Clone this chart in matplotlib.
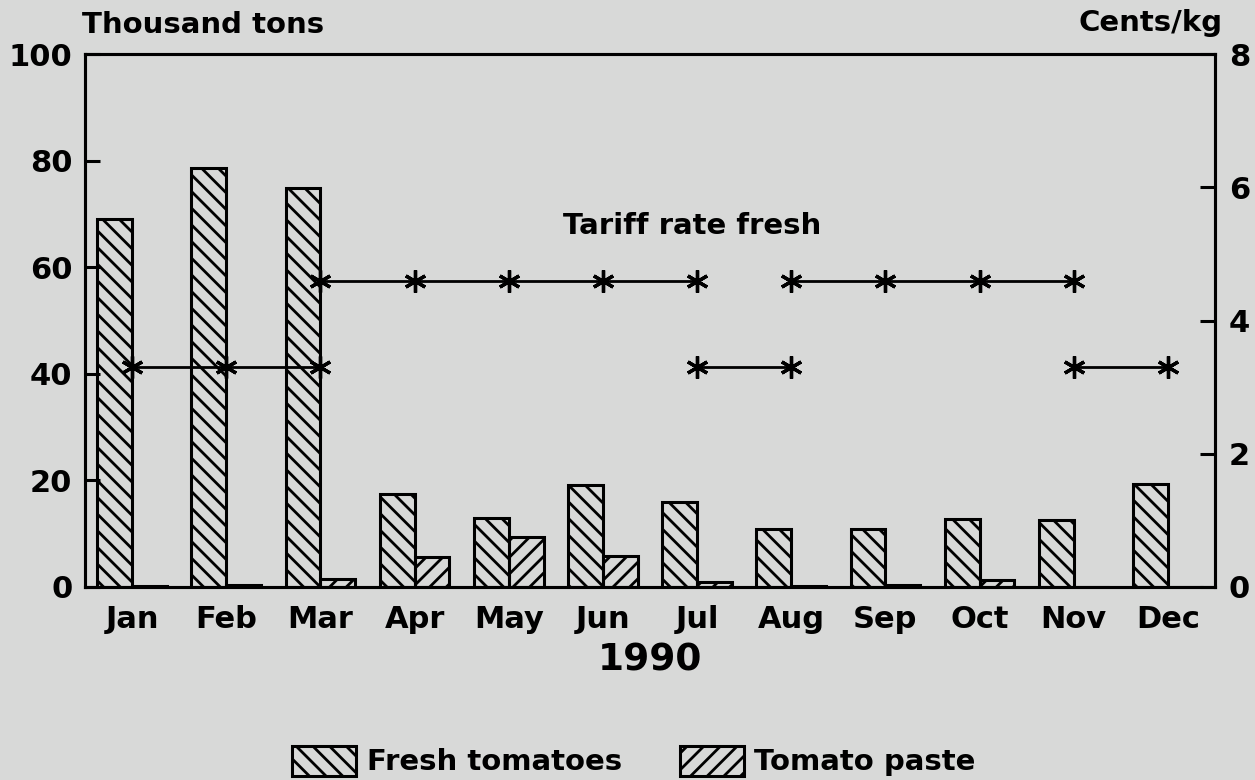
"""Fresh tomato and tomato paste volumes by month, 1990, with tariff rate."""

import matplotlib
matplotlib.use("Agg")
import matplotlib.pyplot as plt
import numpy as np
from matplotlib.patches import Patch

MONTHS = ["Jan", "Feb", "Mar", "Apr", "May", "Jun",
          "Jul", "Aug", "Sep", "Oct", "Nov", "Dec"]
FRESH = [69.0, 78.7, 74.9, 17.5, 12.9, 19.1, 15.9, 10.9, 10.9, 12.7, 12.6, 19.4]
PASTE = [0.2, 0.3, 1.5, 5.6, 9.4, 5.8, 0.9, 0.2, 0.4, 1.3, 0.0, 0.0]

# tariff segments: first month, last month, cents/kg
SEG_START = ["Jan", "Mar", "Jul", "Aug", "Nov"]
SEG_END = ["Mar", "Jul", "Aug", "Nov", "Dec"]
SEG_RATE = [3.3, 4.6, 3.3, 4.6, 3.3]

BG = "#d8d9d8"
LW = 2.2

plt.rcParams["font.family"] = ["DejaVu Sans"]
plt.rcParams["font.weight"] = "bold"
plt.rcParams["hatch.linewidth"] = 2.0

fig = plt.figure(figsize=(12.55, 7.8), dpi=100, facecolor=BG)
ax = fig.add_axes([85 / 1255, 1 - 587 / 780, (1215 - 85) / 1255, (587 - 54) / 780])
ax.set_facecolor(BG)

x = np.arange(len(MONTHS))
w = 0.37
ax.bar(x - w / 2, FRESH, w, facecolor="none", edgecolor="black", hatch="\\\\", linewidth=LW)
ax.bar(x + w / 2, PASTE, w, facecolor="none", edgecolor="black", hatch="//", linewidth=LW)

ax.set_xlim(-0.5, 11.5)
ax.set_ylim(0, 100)
ax.set_yticks([0, 20, 40, 60, 80, 100])
ax.set_xticks(x)
ax.set_xticklabels(MONTHS)
ax.tick_params(axis="x", length=0, pad=13, labelsize=22)
ax.tick_params(axis="y", direction="in", length=11, width=LW, pad=9, labelsize=22)
for s in ax.spines.values():
    s.set_linewidth(LW)
ax.set_xlabel("1990", fontsize=27, fontweight="bold", labelpad=6)

ax2 = ax.twinx()
ax2.set_ylim(0, 8)
ax2.set_yticks([0, 2, 4, 6, 8])
ax2.tick_params(axis="y", direction="in", length=11, width=LW, pad=10, labelsize=22)
for s in ax2.spines.values():
    s.set_linewidth(LW)

for a, b, r in zip(SEG_START, SEG_END, SEG_RATE):
    xs = np.arange(MONTHS.index(a), MONTHS.index(b) + 1)
    ax2.plot(xs, [r] * len(xs), color="black", linewidth=2.0,
             marker=(6, 2, 0), markersize=16, markeredgewidth=2.4)

ax2.text(5.95, 5.42, "Tariff rate fresh", ha="center", va="center",
         fontsize=21, fontweight="bold")

fig.text(82 / 1255, 1 - 25 / 780, "Thousand tons", ha="left", va="center",
         fontsize=21, fontweight="bold")
fig.text(1223 / 1255, 1 - 23 / 780, "Cents/kg", ha="right", va="center",
         fontsize=21, fontweight="bold")

handles = [
    Patch(facecolor="none", edgecolor="black", hatch="\\\\", linewidth=LW, label="Fresh tomatoes"),
    Patch(facecolor="none", edgecolor="black", hatch="//", linewidth=LW, label="Tomato paste"),
]
fig.legend(handles=handles, loc="center", bbox_to_anchor=(634 / 1255, 1 - 761 / 780),
           ncol=2, frameon=False, fontsize=21, handlelength=2.2, handleheight=1.2,
           columnspacing=2.0, handletextpad=0.35, borderpad=0.0, borderaxespad=0.0)

fig.savefig("out.png", dpi=100, facecolor=BG)
